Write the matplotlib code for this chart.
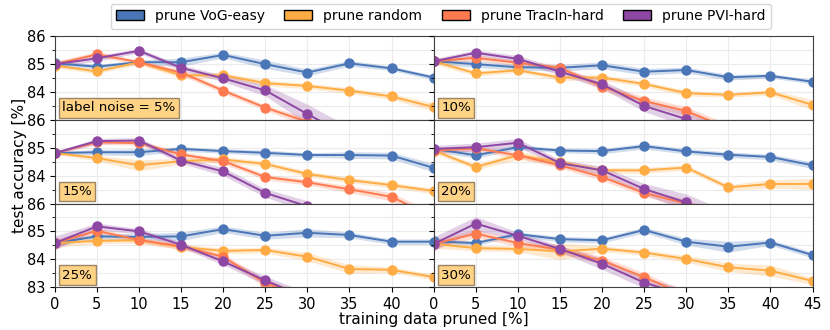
import numpy as np
import matplotlib
matplotlib.use("Agg")
import matplotlib.pyplot as plt
from matplotlib.patches import Patch
from matplotlib.ticker import MultipleLocator

nan = np.nan

# fraction of training data pruned
pruned = [0, 5, 10, 15, 20, 25, 30, 35, 40, 45]
panel_labels = ["label noise = 5%", "10%", "15%", "20%", "25%", "30%"]

methods = ["prune VoG-easy", "prune random", "prune TracIn-hard", "prune PVI-hard"]
colors = ["#4a76b8", "#ffac45", "#ff7b4f", "#8e47a3"]

# mean test accuracy, one list per panel (5%, 10%, 15%, 20%, 25%, 30%)
vog_acc = [
	[85.03, 84.91, 85.07, 85.07, 85.33, 85.00, 84.70, 85.03, 84.85, 84.52],
	[85.11, 85.00, 84.89, 84.87, 84.96, 84.73, 84.79, 84.53, 84.58, 84.37],
	[84.81, 84.84, 84.84, 84.96, 84.88, 84.82, 84.74, 84.74, 84.72, 84.28],
	[84.96, 84.73, 85.02, 84.90, 84.88, 85.06, 84.87, 84.75, 84.67, 84.37],
	[84.58, 84.82, 84.80, 84.82, 85.08, 84.84, 84.95, 84.87, 84.63, 84.63],
	[84.64, 84.58, 84.90, 84.72, 84.68, 85.05, 84.63, 84.45, 84.60, 84.15],
]
rand_acc = [
	[84.95, 84.74, 85.07, 84.60, 84.60, 84.32, 84.22, 84.05, 83.84, 83.46],
	[85.10, 84.67, 84.78, 84.52, 84.52, 84.29, 83.96, 83.90, 83.99, 83.54],
	[84.81, 84.63, 84.37, 84.52, 84.58, 84.42, 84.06, 83.84, 83.66, 83.45],
	[84.90, 84.31, 84.73, 84.49, 84.19, 84.19, 84.29, 83.58, 83.70, 83.70],
	[84.58, 84.66, 84.68, 84.44, 84.30, 84.33, 84.09, 83.65, 83.62, 83.36],
	[84.55, 84.40, 84.37, 84.28, 84.38, 84.24, 84.01, 83.71, 83.59, 83.22],
]
tracin_acc = [
	[85.00, 85.35, 85.07, 84.70, 84.05, 83.44, 82.93, nan, nan, nan],
	[85.10, 85.23, 85.05, 84.87, 84.19, 83.68, 83.32, 82.70, nan, nan],
	[84.81, 85.20, 85.17, 84.76, 84.52, 83.95, 83.76, 83.51, 83.24, 82.50],
	[84.90, 84.98, 84.73, 84.37, 83.95, 83.38, 83.00, 82.40, nan, nan],
	[84.58, 85.02, 84.69, 84.46, 84.09, 83.14, 82.60, nan, nan, nan],
	[84.55, 84.92, 84.58, 84.34, 83.95, 83.36, 82.70, nan, nan, nan],
]
pvi_acc = [
	[85.00, 85.21, 85.48, 84.87, 84.49, 84.06, 83.21, 82.40, nan, nan],
	[85.10, 85.41, 85.19, 84.73, 84.28, 83.50, 83.03, 82.50, nan, nan],
	[84.81, 85.24, 85.26, 84.54, 84.15, 83.38, 82.90, nan, nan, nan],
	[84.96, 85.02, 85.18, 84.45, 84.19, 83.52, 83.04, 82.40, nan, nan],
	[84.58, 85.18, 85.00, 84.52, 83.92, 83.24, 82.60, nan, nan, nan],
	[84.55, 85.28, 84.84, 84.37, 83.84, 83.16, 82.70, nan, nan, nan],
]

# std over seeds (shaded band)
vog_std = [
	[0.10, 0.08, 0.08, 0.15, 0.10, 0.15, 0.12, 0.10, 0.08, 0.08],
	[0.10, 0.12, 0.10, 0.12, 0.12, 0.12, 0.10, 0.10, 0.08, 0.08],
	[0.05, 0.10, 0.12, 0.08, 0.08, 0.10, 0.08, 0.12, 0.12, 0.15],
	[0.10, 0.10, 0.08, 0.08, 0.10, 0.10, 0.10, 0.10, 0.10, 0.12],
	[0.10, 0.10, 0.12, 0.15, 0.12, 0.12, 0.15, 0.10, 0.10, 0.10],
	[0.10, 0.08, 0.08, 0.10, 0.10, 0.10, 0.12, 0.20, 0.10, 0.10],
]
rand_std = [
	[0.08, 0.08, 0.08, 0.10, 0.10, 0.10, 0.10, 0.10, 0.10, 0.15],
	[0.10, 0.10, 0.08, 0.10, 0.10, 0.10, 0.10, 0.08, 0.10, 0.18],
	[0.05, 0.10, 0.20, 0.10, 0.10, 0.10, 0.10, 0.10, 0.10, 0.10],
	[0.10, 0.10, 0.15, 0.10, 0.10, 0.10, 0.10, 0.10, 0.15, 0.20],
	[0.15, 0.10, 0.10, 0.10, 0.10, 0.10, 0.15, 0.15, 0.10, 0.10],
	[0.15, 0.10, 0.10, 0.30, 0.10, 0.10, 0.12, 0.15, 0.20, 0.12],
]
tracin_std = [
	[0.10, 0.10, 0.08, 0.10, 0.10, 0.10, 0.15, nan, nan, nan],
	[0.10, 0.10, 0.10, 0.10, 0.12, 0.15, 0.15, 0.15, nan, nan],
	[0.05, 0.08, 0.08, 0.10, 0.10, 0.10, 0.10, 0.12, 0.15, 0.15],
	[0.10, 0.10, 0.10, 0.10, 0.12, 0.12, 0.15, 0.15, nan, nan],
	[0.15, 0.10, 0.10, 0.10, 0.10, 0.15, 0.15, nan, nan, nan],
	[0.15, 0.15, 0.12, 0.12, 0.15, 0.15, 0.15, nan, nan, nan],
]
pvi_std = [
	[0.10, 0.10, 0.08, 0.10, 0.12, 0.20, 0.35, 0.35, nan, nan],
	[0.10, 0.10, 0.12, 0.12, 0.15, 0.20, 0.25, 0.25, nan, nan],
	[0.05, 0.10, 0.10, 0.10, 0.15, 0.15, 0.20, nan, nan, nan],
	[0.12, 0.15, 0.15, 0.12, 0.15, 0.20, 0.30, 0.30, nan, nan],
	[0.25, 0.12, 0.10, 0.10, 0.12, 0.15, 0.20, nan, nan, nan],
	[0.25, 0.25, 0.12, 0.12, 0.20, 0.20, 0.20, nan, nan, nan],
]

all_acc = [vog_acc, rand_acc, tracin_acc, pvi_acc]
all_std = [vog_std, rand_std, tracin_std, pvi_std]

fig, axes = plt.subplots(3, 2, figsize=(8.3, 3.3), dpi=100)
fig.subplots_adjust(left=0.066, right=0.979, top=0.89, bottom=0.13, hspace=0, wspace=0)

x = np.array(pruned)
for p, ax in enumerate(axes.flat):
	row, col = divmod(p, 2)
	for m in range(4):
		mean = np.array(all_acc[m][p])
		std = np.array(all_std[m][p])
		ax.fill_between(x, mean - std, mean + std, color=colors[m], alpha=0.25, linewidth=0)
		ax.plot(x, mean, color=colors[m], marker="o", markersize=6.5, linewidth=1.4)

	ax.set_xlim(0, 45)
	ax.set_ylim(83, 86)
	ax.grid(True, which="both", color="#ebebeb", linewidth=0.8)
	ax.set_axisbelow(True)
	ax.yaxis.set_minor_locator(MultipleLocator(0.5))
	if row == 2:
		ax.set_yticks([83, 84, 85, 86])
	else:
		ax.set_yticks([84, 85, 86])
	if col == 0:
		ax.set_xticks(range(0, 41, 5))
	else:
		ax.set_xticks(range(0, 46, 5))
		ax.set_yticklabels([])
	if row < 2:
		ax.set_xticklabels([])
		ax.tick_params(axis="x", length=0)
	ax.tick_params(labelsize=10.5)
	for s in ax.spines.values():
		s.set_color("0.25")

	ax.text(0.02, 0.066, panel_labels[p], transform=ax.transAxes, fontsize=9.6,
		va="bottom", ha="left",
		bbox=dict(boxstyle="square,pad=0.25", facecolor="#ffd385", edgecolor="#9c8464"))

fig.supxlabel("training data pruned [%]", fontsize=11, x=0.523, y=0.01)
fig.supylabel("test accuracy [%]", fontsize=11, x=0.014)

handles = [Patch(facecolor=c, edgecolor="black", label=l) for c, l in zip(colors, methods)]
fig.legend(handles=handles, loc="upper center", ncol=4, bbox_to_anchor=(0.531, 1.01),
	fontsize=10, handlelength=2.0, columnspacing=1.4, frameon=True)

fig.savefig("out.png", dpi=100)
